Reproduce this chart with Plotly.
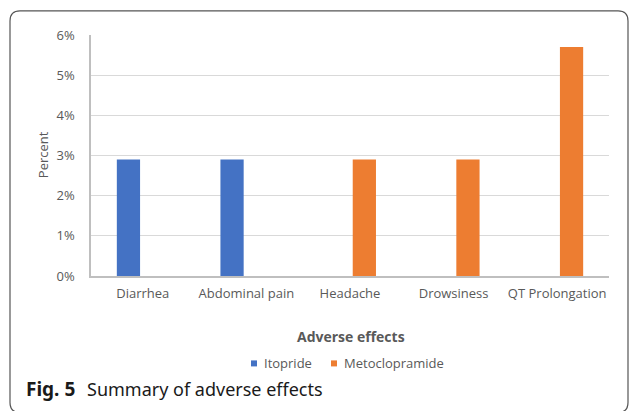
import plotly.graph_objects as go

categories = ["Diarrhea", "Abdominal pain", "Headache", "Drowsiness", "QT Prolongation"]
itopride = [0.029, 0.029, None, None, None]
metoclopramide = [None, None, 0.029, 0.029, 0.057]
series_names = ["Itopride", "Metoclopramide"]
series_colors = ["#4472C4", "#ED7D31"]
y_ticks = [0, 0.01, 0.02, 0.03, 0.04, 0.05, 0.06]

W, H = 629, 411
L, R, T, B = 91, 609, 35, 275.7
pw, ph = R - L, B - T


def px(x):
    return (x - L) / pw


def py(y):
    return (B - y) / ph


FONT = "Open Sans"
GRAY = "#595959"

fig = go.Figure()
fig.add_trace(go.Bar(x=categories, y=itopride, name=series_names[0],
                     marker=dict(color=series_colors[0], line=dict(width=0))))
fig.add_trace(go.Bar(x=categories, y=metoclopramide, name=series_names[1],
                     marker=dict(color=series_colors[1], line=dict(width=0))))

# rounded border
x0, x1, y0, y1, r = 10, 628, 11, 412, 10
rx, ry = r / pw, r / ph
path = (f"M {px(x0)},{py(y0) - ry} "
        f"Q {px(x0)},{py(y0)} {px(x0) + rx},{py(y0)} "
        f"L {px(x1) - rx},{py(y0)} "
        f"Q {px(x1)},{py(y0)} {px(x1)},{py(y0) - ry} "
        f"L {px(x1)},{py(y1) + ry} "
        f"Q {px(x1)},{py(y1)} {px(x1) - rx},{py(y1)} "
        f"L {px(x0) + rx},{py(y1)} "
        f"Q {px(x0)},{py(y1)} {px(x0)},{py(y1) + ry} Z")

shapes = [dict(type="path", path=path, xref="paper", yref="paper",
               line=dict(color="#555555", width=1.2), layer="above")]

# legend (swatch + label), drawn manually to match the compact layout
legend_y = 363
legend_items = [(251, 263), (331, 343)]
annotations = []
for (sx, tx), name, col in zip(legend_items, series_names, series_colors):
    shapes.append(dict(type="rect", xref="paper", yref="paper",
                       x0=px(sx), x1=px(sx + 6), y0=py(legend_y + 3), y1=py(legend_y - 3),
                       fillcolor=col, line=dict(width=0)))
    annotations.append(dict(text=name, x=px(tx - 1), y=py(legend_y), xref="paper", yref="paper",
                            showarrow=False, xanchor="left", yanchor="middle",
                            font=dict(size=13, color=GRAY)))

annotations += [
    dict(text="Percent", x=px(43), y=py(155), xref="paper", yref="paper",
         textangle=-90, showarrow=False, font=dict(size=13, color=GRAY),
         xanchor="center", yanchor="middle"),
    dict(text="<b>Adverse effects</b>", x=px(351), y=py(336), xref="paper", yref="paper",
         showarrow=False, font=dict(size=14, color=GRAY),
         xanchor="center", yanchor="middle"),
    dict(text="<b>Fig. 5</b>", x=px(24), y=py(389), xref="paper", yref="paper",
         showarrow=False, font=dict(family="Noto Sans", size=19, color="#1a1a1a"),
         xanchor="left", yanchor="middle"),
    dict(text="Summary of adverse effects", x=px(85), y=py(389), xref="paper", yref="paper",
         showarrow=False,
         font=dict(family="Noto Sans", size=18, color="#1a1a1a"),
         xanchor="left", yanchor="middle"),
]

fig.update_layout(
    width=W, height=H,
    margin=dict(l=L, r=W - R, t=T, b=H - B, autoexpand=False),
    paper_bgcolor="white", plot_bgcolor="white",
    barmode="group", bargap=0.446, bargroupgap=0.19,
    font=dict(family=FONT, size=13, color=GRAY),
    showlegend=False,
    xaxis=dict(showgrid=False, showline=True, linecolor="#bfbfbf", linewidth=1.5,
               ticks="", tickfont=dict(size=13, color=GRAY), ticklabelstandoff=5),
    yaxis=dict(range=[0, 0.06], tickvals=y_ticks, tickformat=".0%",
               showgrid=True, gridcolor="#d9d9d9", gridwidth=1,
               showline=True, linecolor="#bfbfbf", linewidth=1.5,
               zeroline=False, ticks="", ticklabelstandoff=12,
               tickfont=dict(size=13, color=GRAY)),
    shapes=shapes,
    annotations=annotations,
)

fig.write_html("out.html", config={"displayModeBar": False},
               post_script="document.body.style.margin='0';")
